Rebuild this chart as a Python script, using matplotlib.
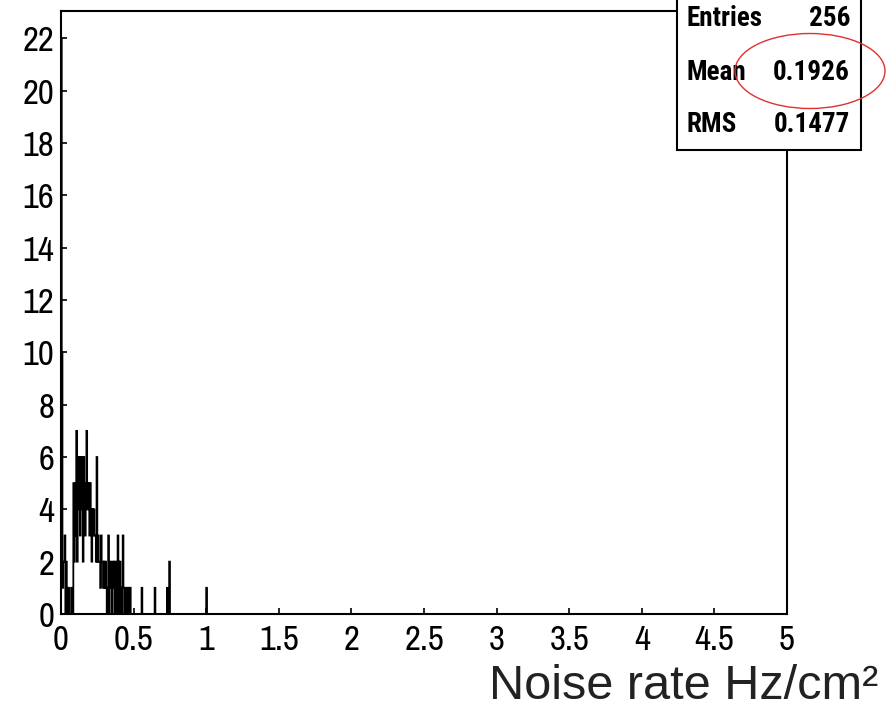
import numpy as np
import matplotlib.pyplot as plt
from matplotlib.patches import Ellipse, Rectangle

# histogram: 1000 bins from 0 to 5 (width 0.005)
n_bins = 1000
x_min, x_max = 0.0, 5.0

# counts of the first 100 bins (0 - 0.5)
first_counts = [22, 10, 1, 2, 2, 3, 0, 2, 1, 0,
                1, 0, 0, 0, 1, 0, 0, 5, 2, 3,
                5, 7, 2, 6, 4, 6, 3, 6, 4, 6,
                2, 6, 5, 3, 4, 7, 5, 4, 5, 3,
                5, 4, 2, 4, 3, 4, 3, 3, 2, 6,
                2, 3, 2, 2, 1, 3, 2, 2, 1, 2,
                1, 2, 1, 0, 1, 3, 0, 1, 2, 1,
                0, 2, 1, 2, 0, 1, 2, 0, 3, 2,
                0, 2, 1, 0, 1, 3, 1, 0, 1, 0,
                1, 1, 0, 1, 0, 1, 0, 0, 0, 0]

# isolated entries further out
tail_x = [0.555, 0.645, 0.73, 0.745, 1.0]
tail_counts = [1, 1, 1, 2, 1]

stat_labels = ['Entries', 'Mean', 'RMS']
stat_values = ['256', '0.1926', '0.1477']

tick_font = ['Archivo Narrow', 'Roboto Condensed', 'DejaVu Sans']
stat_font = ['Roboto Condensed', 'DejaVu Sans']

edges = np.linspace(x_min, x_max, n_bins + 1)
counts = np.zeros(n_bins)
counts[:len(first_counts)] = first_counts
for xv, c in zip(tail_x, tail_counts):
    counts[int(xv / (x_max - x_min) * n_bins)] += c

fig = plt.figure(figsize=(8.89, 7.15), dpi=100)
ax = fig.add_axes([0.0686, 0.1413, 0.8167, 0.8433])

ax.stairs(counts, edges, color='black', linewidth=1.3)

ax.set_xlim(x_min, x_max)
ax.set_ylim(0, 23.05)
ax.set_xticks(np.arange(0, 5.01, 0.5))
ax.set_xticklabels(['0', '0.5', '1', '1.5', '2', '2.5', '3', '3.5', '4', '4.5', '5'])
ax.set_yticks(np.arange(0, 23, 2))

for lab in ax.get_xticklabels() + ax.get_yticklabels():
    lab.set_family(tick_font)
    lab.set_fontsize(25)
ax.tick_params(direction='in', length=4, width=1.2)
ax.tick_params(axis='x', pad=7)
ax.tick_params(axis='y', pad=5)
for sp in ax.spines.values():
    sp.set_linewidth(1.5)

# x axis title
fig.text(0.988, 0.008, 'Noise rate Hz/cm²', ha='right', va='bottom',
         fontsize=35, family=['Liberation Sans', 'DejaVu Sans'], color='#222222')

# statistics box
box = Rectangle((677 / 889, 1 - 150 / 715), (861 - 677) / 889, 160 / 715,
                transform=fig.transFigure, facecolor='white', edgecolor='black',
                linewidth=1.5, zorder=5)
fig.patches.append(box)
rows_y = [18, 72, 124]
for lab, val, py in zip(stat_labels, stat_values, rows_y):
    fig.text(687 / 889, 1 - py / 715, lab, ha='left', va='center', fontsize=19.5,
             fontweight='bold', family=stat_font, zorder=6)
    fig.text(850 / 889, 1 - py / 715, val, ha='right', va='center', fontsize=19.5,
             fontweight='bold', family=stat_font, zorder=6)

# red ellipse around the mean
ell = Ellipse((810 / 889, 1 - 71 / 715), 150 / 889, 75 / 715,
              transform=fig.transFigure, fill=False, edgecolor='#e03030',
              linewidth=1.0, zorder=7)
fig.patches.append(ell)

fig.savefig('out.png', dpi=100)
